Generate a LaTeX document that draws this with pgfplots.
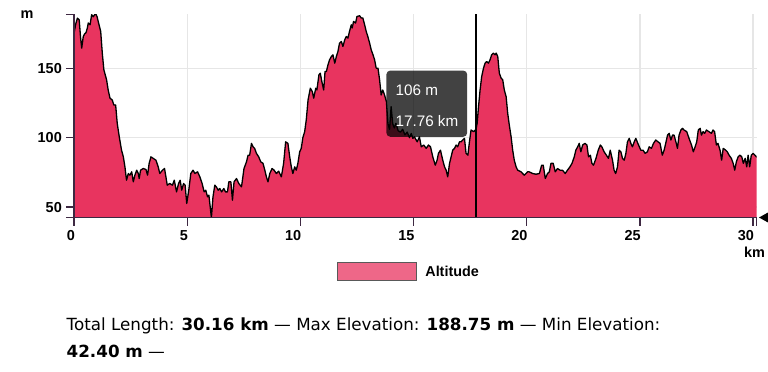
\documentclass[border=0pt]{standalone}
\usepackage{fontspec}
\setmainfont{Liberation Sans}
\newfontfamily\dejavu{DejaVu Sans}
\usepackage{pgfplots}
\pgfplotsset{compat=1.18}
\usepackage{pgfplotstable}
\definecolor{crimson}{RGB}{232,52,95}
\definecolor{legpink}{RGB}{238,103,136}
\definecolor{axiscol}{RGB}{62,40,66}
\definecolor{gridcol}{RGB}{230,230,230}

\pgfplotstableread{
x y
0.00 175
0.08 182
0.15 186
0.23 184.8
0.29 172
0.34 164.4
0.41 172.8
0.47 174.7
0.53 175.5
0.59 178.9
0.63 182.5
0.71 181.2
0.78 188.5
0.85 187
0.92 188.7
0.97 188.75
1.02 187
1.07 183.6
1.18 176.4
1.25 160.8
1.32 148.8
1.44 141.6
1.51 134.3
1.59 128.4
1.69 127.1
1.76 123.5
1.84 123.5
1.91 110.3
2.00 100.6
2.10 91
2.18 86.2
2.25 79
2.32 69.4
2.40 74.2
2.47 73
2.55 75.4
2.62 68.2
2.69 73
2.77 76.6
2.84 74.2
2.88 70.6
2.94 76.6
3.06 77.8
3.18 77.1
3.25 73
3.32 81.5
3.40 86.2
3.50 85.1
3.62 83.8
3.72 79
3.79 74.2
3.91 76.6
4.00 77.8
4.12 65.8
4.23 67
4.35 65.8
4.43 69.4
4.53 61
4.62 67
4.69 69.4
4.76 62.2
4.84 67
4.91 65.8
4.98 52.6
5.07 62.2
5.16 74.2
5.26 76.6
5.34 74.2
5.46 75.4
5.56 71.8
5.66 67
5.75 61
5.82 62.2
5.90 57.4
5.96 58.6
6.07 42.4
6.14 57.4
6.22 65.8
6.29 64.6
6.37 62.2
6.44 63.4
6.52 61
6.62 63.4
6.69 61
6.78 61
6.84 68.2
6.93 68.2
7.00 55
7.07 68.2
7.18 70.6
7.28 67
7.40 64.6
7.51 77.8
7.62 82.6
7.69 87.4
7.76 87.4
7.84 95.9
7.91 93.4
7.98 92.3
8.06 88.7
8.16 86.2
8.25 82.6
8.35 81.5
8.43 76.6
8.50 71.8
8.57 68.2
8.65 74.2
8.75 77.8
8.84 76.6
8.94 74.2
9.04 75.9
9.16 71.8
9.26 81.5
9.35 97
9.45 95.9
9.53 86.2
9.60 79
9.67 74.2
9.75 79
9.82 76.6
9.89 81.5
9.97 89.8
10.04 92.3
10.11 100
10.19 104.3
10.26 112.7
10.34 127.1
10.44 135.6
10.53 133.1
10.59 128.4
10.68 135.6
10.73 134.3
10.82 145.2
10.88 146.4
10.95 140.3
11.03 134.3
11.09 147.6
11.15 147.6
11.22 152.4
11.29 156
11.37 158.4
11.44 159.6
11.52 153.6
11.59 158.4
11.66 162
11.73 168
11.81 169.2
11.88 165.6
11.96 170.4
12.03 172.8
12.10 171.6
12.17 176.4
12.25 181.2
12.29 178.9
12.35 183.6
12.44 182.5
12.50 187.2
12.62 187.7
12.69 186.1
12.76 186.1
12.84 181.2
12.91 176.4
12.98 172.8
13.06 168
13.13 163.2
13.21 159.6
13.28 156
13.35 150
13.43 150
13.50 141.6
13.57 130.7
13.64 134.3
13.72 130.7
13.80 126
13.87 110
13.94 106
14.01 122.3
14.08 110
14.15 107
14.22 110.3
14.32 105
14.42 104
14.52 106
14.62 102
14.72 104
14.82 100
14.90 103
14.97 99.5
15.04 100.6
15.16 97
15.26 100.6
15.34 93.4
15.45 94.7
15.56 92.3
15.66 94.7
15.75 93.4
15.85 86.2
15.96 80.2
16.04 83.8
16.10 88.7
16.19 91
16.29 83.8
16.37 79
16.44 76.6
16.51 71.8
16.59 81.5
16.66 86.2
16.73 91
16.81 92.3
16.88 94.7
16.95 93.4
17.03 97
17.10 97
17.17 98.3
17.25 99.5
17.32 88.7
17.40 87.4
17.47 97
17.54 105.5
17.66 104.3
17.76 106
17.81 110.3
17.87 122.3
17.94 134.3
18.01 143.9
18.09 150
18.16 153.6
18.23 154.8
18.31 153.6
18.38 156
18.45 159.6
18.53 160.8
18.60 159.6
18.65 160.8
18.72 158.4
18.79 146.4
18.87 142.8
18.94 141.6
19.01 134.3
19.09 129.5
19.16 117.5
19.23 109.1
19.31 100.6
19.38 91
19.45 83.8
19.53 79
19.60 76.6
19.75 75.4
19.89 73
20.04 75.4
20.11 75.4
20.26 74.2
20.41 73.7
20.56 74.2
20.66 80.2
20.73 80.2
20.82 70.6
20.92 74.2
21.00 75.4
21.07 81.5
21.17 81.5
21.26 75.4
21.36 77.8
21.47 76.6
21.58 76.6
21.70 74.2
21.80 76.6
21.91 79
22.00 81.5
22.10 86.2
22.17 91
22.25 93.4
22.32 95.9
22.39 89.8
22.47 94.7
22.57 95.9
22.66 94.7
22.73 86.2
22.81 87.4
22.88 81.5
22.95 80.2
23.06 85.1
23.16 91
23.25 94.7
23.32 93.4
23.42 89.8
23.52 87.4
23.61 85.1
23.69 91
23.79 83.8
23.86 76.6
23.93 74.2
24.01 79
24.08 91
24.16 89.8
24.23 85.1
24.31 83.8
24.38 88.7
24.45 97
24.53 99.5
24.60 95.9
24.67 93.4
24.75 97
24.82 99.5
24.94 94.7
25.04 91
25.14 91
25.23 88.7
25.33 89.8
25.41 93.4
25.51 92.3
25.60 95.9
25.70 98.3
25.80 97
25.89 95.9
25.99 87.4
26.07 91
26.14 95.9
26.22 101.8
26.29 103.1
26.37 98.3
26.44 101.8
26.51 101.8
26.59 97
26.66 92.3
26.73 101.8
26.81 105.5
26.88 106.7
26.95 105.5
27.07 104.3
27.17 99.5
27.28 94.7
27.36 89.8
27.44 93.4
27.51 97
27.58 105.5
27.66 106.7
27.72 101.8
27.79 104.3
27.86 103.1
27.94 105.5
28.05 104.3
28.16 103.1
28.23 105.5
28.30 104.3
28.38 94.7
28.45 95.9
28.54 91
28.61 83.8
28.68 92.3
28.79 91
28.86 89.8
28.94 87.4
29.04 85.1
29.12 81.5
29.19 76.6
29.26 82.6
29.34 86.2
29.42 87.4
29.50 86.2
29.57 81.5
29.65 85.1
29.72 79
29.78 87.4
29.85 79
29.92 87.4
30.00 88.7
30.08 87.4
30.16 86
}\profile

\begin{document}
\begin{tikzpicture}
\path[use as bounding box] (0,0) rectangle (768bp,-372bp);
\begin{axis}[
  name=ax,
  at={(74bp,-217.7bp)}, anchor=south west,
  width=682.7bp, height=203.4bp, scale only axis,
  xmin=0, xmax=30.16, ymin=42.4, ymax=188.75,
  axis lines*=left,
  axis line style={axiscol, line width=1.3bp},
  xtick={0,5,10,15,20,25,30}, ytick={50,100,150},
  extra x ticks={30.16}, extra x tick labels={{}},
  extra y ticks={42.4,188.75}, extra y tick labels={{},{}},
  extra tick style={grid=none},
  tick align=outside, major tick length=8bp,
  tick style={axiscol, line width=1.3bp},
  xmajorgrids, ymajorgrids,
  major grid style={gridcol, line width=1.3bp},
  /pgf/number format/assume math mode=true,
  ticklabel style={font=\bfseries\fontsize{14.5}{14.5}\selectfont, text=black},
  xticklabel style={anchor=north east, inner sep=0pt, yshift=-5bp, xshift=1bp},
  yticklabel style={anchor=east, inner sep=0pt, xshift=-4bp},
  legend style={at={(0.3848,-0.2655)}, anchor=west, draw=none, fill=none, inner sep=0pt,
    font=\bfseries\fontsize{14.4}{14.4}\selectfont},
  legend image code/.code={\draw[fill=legpink, draw=gray!70!black, line width=1bp] (0bp,-9bp) rectangle (79bp,9bp); \path (86bp,0bp);},
]
\addplot[fill=crimson, draw=none] table[x=x,y=y]{\profile} \closedcycle;
\addlegendentry{Altitude}
\addplot[forget plot, black, line width=1.3bp, line join=round] table[x=x,y=y]{\profile};
\addplot[forget plot, black, line width=1.3bp] coordinates {(17.76,42.4) (17.76,188.75)};
\fill[black, opacity=0.74, rounded corners=4bp] (axis cs:13.8,148.3) rectangle (axis cs:17.37,100.6);
\node[anchor=west, text=white, inner sep=0pt, font=\fontsize{15.3}{15.3}\selectfont] at (axis cs:14.2,134.3) {106 m};
\node[anchor=west, text=white, inner sep=0pt, font=\fontsize{15.3}{15.3}\selectfont] at (axis cs:14.2,112.0) {17.76 km};
\end{axis}
\draw[axiscol, line width=1.3bp] (ax.north west) -- (ax.south west) -- (ax.south east);
\node[anchor=base, inner sep=0pt, font=\bfseries\fontsize{14.5}{14.5}\selectfont] at (27bp,-18.3bp) {m};
\node[anchor=base, inner sep=0pt, font=\bfseries\fontsize{14.5}{14.5}\selectfont] at (754.5bp,-257bp) {km};
\fill[black] (759bp,-217.5bp) -- (768bp,-212.5bp) -- (768bp,-222.5bp) -- cycle;
\node[anchor=base west, inner sep=0pt, font=\dejavu\fontsize{16.8}{16.8}\selectfont] at (66.5bp,-330.5bp) {Total Length: \textbf{30.16 km} — Max Elevation: \textbf{188.75 m} — Min Elevation:};
\node[anchor=base west, inner sep=0pt, font=\dejavu\fontsize{16.8}{16.8}\selectfont] at (66.5bp,-357.5bp) {\textbf{42.40 m} —};
\end{tikzpicture}
\end{document}
